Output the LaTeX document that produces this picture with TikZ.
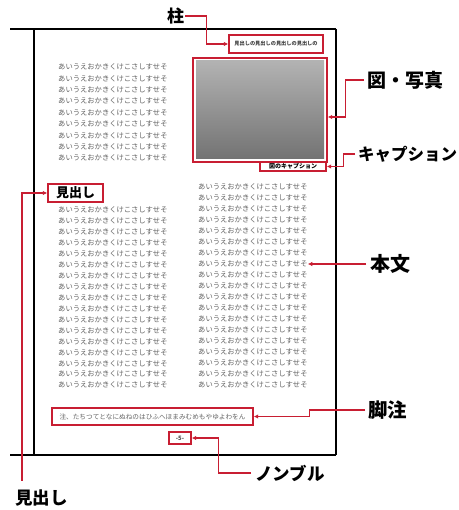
\documentclass[tikz,border=0pt]{standalone}
\usepackage{fontspec}
\newfontfamily\jp{Noto Sans CJK JP}
\usetikzlibrary{arrows.meta}
\definecolor{rd}{RGB}{200,30,50}
\definecolor{txt}{RGB}{100,100,100}
\begin{document}
\begin{tikzpicture}[x=1pt,y=-1pt,
 rbox/.style={draw=rd,line width=1.4pt,inner sep=0pt},
 conn/.style={draw=rd,line width=1.4pt,-{Latex[length=4.5pt,width=4.5pt]}},
 lbl/.style={inner sep=0pt,anchor=west},
 body/.style={font=\jp\fontsize{7.3}{7.3}\selectfont,text=txt,inner sep=0pt,anchor=west},
 pageline/.style={draw=black,line width=1.3pt}]
\fill[white] (0,0) rectangle (458,510);
\useasboundingbox (0,0) rectangle (458,510);
% page
\draw[pageline] (10,29) -- (336,29);
\draw[pageline] (34,29) -- (34,455);
\draw[pageline] (336,29) -- (336,455);
\draw[pageline] (10,455) -- (336,455);
% figure
\shade[top color=black!30,bottom color=black!55] (196,61) rectangle (324,159);
\node[rbox,minimum width=134pt,minimum height=104pt] (fig) at (260,110) {};
\node[rbox,minimum width=94pt,minimum height=18pt,font=\jp\bfseries\fontsize{5.2}{5.2}\selectfont,text=black!75] (rh) at (276,44) {見出しの見出しの見出しの見出しの};
\node[rbox,minimum width=66pt,minimum height=9pt,font=\jp\bfseries\fontsize{6}{6}\selectfont] (cap) at (293,166.5) {図のキャプション};
\node[rbox,minimum width=55pt,minimum height=18pt,font=\jp\bfseries\fontsize{13}{13}\selectfont] (head) at (75.5,193) {見出し};
\node[rbox,minimum width=201pt,minimum height=17pt,font=\jp\fontsize{6.65}{6.65}\selectfont,text=txt] (foot) at (152.5,416.5) {注、たちつてとなにぬねのはひふへほまみむめもやゆよわをん};
\node[rbox,minimum width=22pt,minimum height=12pt,font=\jp\bfseries\fontsize{6}{6}\selectfont,text=black!70] (nom) at (180,438) {-5-};
% body text
\foreach \k in {0,...,8} \node[body] (a\k) at (58,67+11.4*\k) {あいうえおかきくけこさしすせそ};
\foreach \k in {0,...,16} \node[body] (b\k) at (58,210+10.95*\k) {あいうえおかきくけこさしすせそ};
\foreach \k in {0,...,18} \node[body] (r\k) at (198,187+11*\k) {あいうえおかきくけこさしすせそ};
% labels
\node[lbl,font=\jp\bfseries\fontsize{17}{17}\selectfont] (lab1) at (167,16) {柱};
\node[lbl,font=\jp\bfseries\fontsize{19}{19}\selectfont] (lab2) at (367,80) {図・写真};
\node[lbl,font=\jp\bfseries\fontsize{16.5}{16.5}\selectfont] (lab3) at (358,154) {キャプション};
\node[lbl,font=\jp\bfseries\fontsize{20}{20}\selectfont] (lab4) at (370,264) {本文};
\node[lbl,font=\jp\bfseries\fontsize{19.5}{19.5}\selectfont] (lab5) at (368,410) {脚注};
\node[lbl,font=\jp\bfseries\fontsize{17.5}{17.5}\selectfont] (lab6) at (255,473) {ノンブル};
\node[lbl,font=\jp\bfseries\fontsize{17.5}{17.5}\selectfont] (lab7) at (15,498) {見出し};
% connectors
\draw[conn] ([xshift=1pt]lab1.east) -| ([xshift=-22pt]rh.west) -- (rh.west);
\draw[conn] ([xshift=-3pt]lab2.west) -| ([xshift=18pt,yshift=-7pt]fig.east) -- ([yshift=-7pt]fig.east);
\draw[conn] ([xshift=-3pt]lab3.west) -| ([xshift=17pt]cap.east) -- (cap.east);
\draw[conn] ([xshift=-4pt]lab4.west) -- (r7.east);
\draw[conn] ([xshift=-3pt]lab5.west) -| ([xshift=56pt]foot.east) -- (foot.east);
\draw[conn] ([xshift=-4pt]lab6.west) -| ([xshift=27pt]nom.east) -- (nom.east);
\draw[conn] ([shift={(7pt,9pt)}]lab7.north west) |- (head.west);
\end{tikzpicture}
\end{document}
